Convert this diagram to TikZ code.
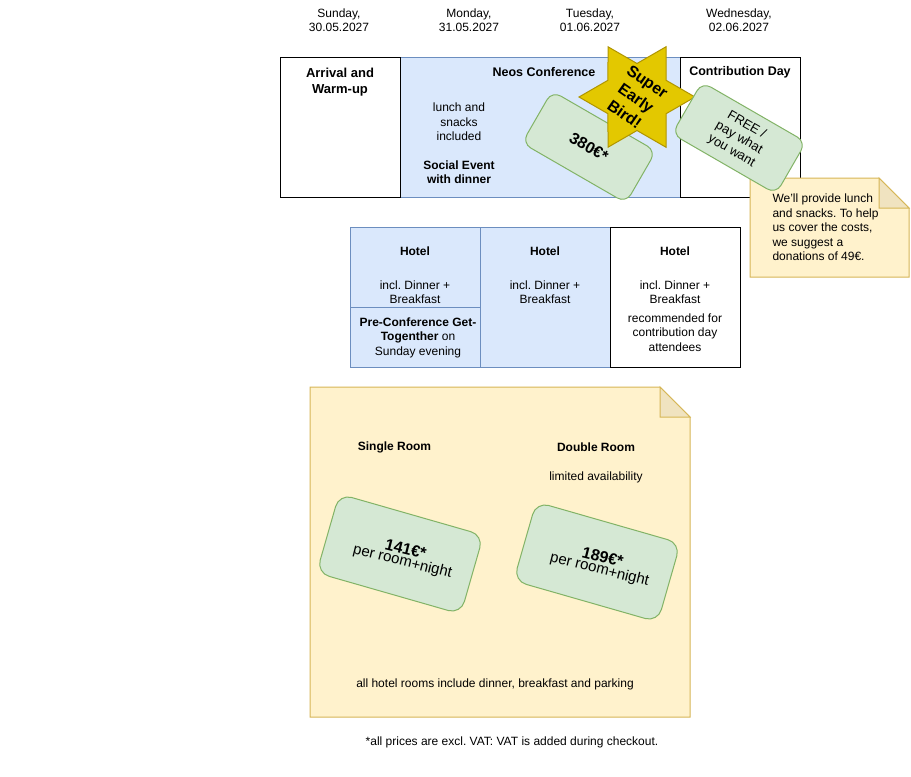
\documentclass[tikz,border=0pt]{standalone}
\usepackage{fontspec}
\setmainfont{Liberation Sans}
\definecolor{bluefill}{HTML}{DAE8FC}
\definecolor{bluedraw}{HTML}{6C8EBF}
\definecolor{greenfill}{HTML}{D5E8D4}
\definecolor{greendraw}{HTML}{82B366}
\definecolor{notefill}{HTML}{FFF2CC}
\definecolor{notedraw}{HTML}{D6B656}
\definecolor{foldfill}{HTML}{F0E3C0}
\definecolor{starfill}{HTML}{E3C800}
\definecolor{stardraw}{HTML}{B09500}
\frenchspacing
\begin{document}
\begin{tikzpicture}[x=1pt,y=-1pt,line width=1pt,
  txt/.style={inner sep=0pt,align=center,font=\fontsize{12}{14.4}\selectfont},
  bold/.style={inner sep=0pt,align=center,font=\fontsize{12}{14.4}\selectfont\bfseries},
  whitebox/.style={draw=black,fill=white,inner sep=0pt,anchor=north west},
  bluebox/.style={draw=bluedraw,fill=bluefill,inner sep=0pt,anchor=north west},
  ticket/.style={draw=greendraw,fill=greenfill,inner sep=0pt,align=center},
  notebody/.style={draw=notedraw,fill=notefill,line join=miter},
  notefold/.style={draw=notedraw,fill=foldfill,line join=miter},
  starshape/.style={draw=stardraw,fill=starfill,line join=miter}
]
\useasboundingbox (0,0) rectangle (911,777);

% dates
\node[txt] (d1) at (339,20) {Sunday,\\30.05.2027};
\node[txt] (d2) at (469,20) {Monday,\\31.05.2027};
\node[txt] (d3) at (590,20) {Tuesday,\\01.06.2027};
\node[txt] (d4) at (739,20) {Wednesday,\\02.06.2027};

% top row
\node[bluebox,minimum width=280pt,minimum height=140pt] (neos) at (400,57) {};
\node[whitebox,minimum width=120pt,minimum height=140pt] (arrival) at (280,57) {};
\node[whitebox,minimum width=120pt,minimum height=140pt] (contrib) at (680,57) {};

\node[bold,font=\fontsize{13}{15.6}\selectfont\bfseries] (arrt) at (340,82) {Arrival and\\Warm-up};
\node[bold,font=\fontsize{12.5}{14.4}\selectfont\bfseries] (neost) at (544,72) {Neos Conference};
\node[txt] (lunch) at (459,122) {lunch and\\snacks\\included};
\node[bold] (social) at (459,172.5) {Social Event\\with dinner};
\node[bold,font=\fontsize{12.5}{14.4}\selectfont\bfseries] (contribt) at (740,72) {Contribution Day};

% early bird ticket
\node[ticket,rotate=-30,minimum width=120pt,minimum height=60pt,rounded corners=10pt,
  font=\fontsize{16}{19}\selectfont\bfseries] (price) at (589,147) {380€*};

% star
\draw[starshape,shift={(637,97)}] (0:58) -- (30:33.5) -- (60:58) -- (90:33.5) -- (120:58) -- (150:33.5)
  -- (180:58) -- (210:33.5) -- (240:58) -- (270:33.5) -- (300:58) -- (330:33.5) -- cycle;
\node[bold,rotate=-35,font=\fontsize{16}{20}\selectfont\bfseries] (star) at (636,98) {Super\\Early\\Bird!};

% side note
\draw[notebody] (750,178) -- (879,178) -- (909,208) -- (909,277) -- (750,277) -- cycle;
\draw[notefold] (879,178) -- (879,208) -- (909,208) -- cycle;
\node[txt,align=left,anchor=west] (donate) at (772,227.5)
  {We'll provide lunch\\and snacks. To help\\us cover the costs,\\we suggest a\\donations of 49€.};

% free ticket
\node[ticket,rotate=-30,minimum width=120pt,minimum height=60pt,rounded corners=10pt,
  font=\fontsize{13}{15}\selectfont] (free) at (739,138) {FREE /\\pay what\\you want};

% hotel row
\node[bluebox,minimum width=130pt,minimum height=80pt] (h1a) at (350,227) {};
\node[bluebox,minimum width=130pt,minimum height=60pt] (h1b) at (350,307) {};
\node[bluebox,minimum width=130pt,minimum height=140pt] (h2) at (480,227) {};
\node[whitebox,minimum width=130pt,minimum height=140pt] (h3) at (610,227) {};

\node[bold] (h1t) at (415,251) {Hotel};
\node[bold] (h2t) at (545,251) {Hotel};
\node[bold] (h3t) at (675,251) {Hotel};
\node[txt] (h1i) at (415,292) {incl. Dinner +\\Breakfast};
\node[txt] (h2i) at (545,292) {incl. Dinner +\\Breakfast};
\node[txt] (h3i) at (675,292) {incl. Dinner +\\Breakfast};
\node[txt] (pre) at (418,337.5) {\textbf{Pre-Conference Get-}\\\textbf{Togenther} on\\Sunday evening};
\node[txt] (rec) at (675,332.5) {recommended for\\contribution day\\attendees};

% rooms note
\draw[notebody] (310,387) -- (660,387) -- (690,417) -- (690,717) -- (310,717) -- cycle;
\draw[notefold] (660,387) -- (660,417) -- (690,417) -- cycle;
\node[bold] (single) at (394.5,447) {Single Room};
\node[bold] (double) at (596,447) {Double Room};
\node[txt] (limited) at (596,477.5) {limited availability};
\node[txt] (allrooms) at (495,684) {all hotel rooms include dinner, breakfast and parking};

\node[ticket,rotate=-16,minimum width=150pt,minimum height=82pt,rounded corners=13pt] (sprice) at (400,554) {};
\node[inner sep=0pt,align=center,rotate=-14] (stxt) at (404,556)
  {{\fontsize{16}{20}\selectfont\bfseries 141€*}\\{\fontsize{15}{18}\selectfont per room+night}};
\node[ticket,rotate=-16,minimum width=150pt,minimum height=82pt,rounded corners=13pt] (dprice) at (597,562) {};
\node[inner sep=0pt,align=center,rotate=-14] (dtxt) at (601,564)
  {{\fontsize{16}{20}\selectfont\bfseries 189€*}\\{\fontsize{15}{18}\selectfont per room+night}};

% footer
\node[txt] (footer) at (512,742) {*all prices are excl. VAT: VAT is added during checkout.};
\end{tikzpicture}
\end{document}
